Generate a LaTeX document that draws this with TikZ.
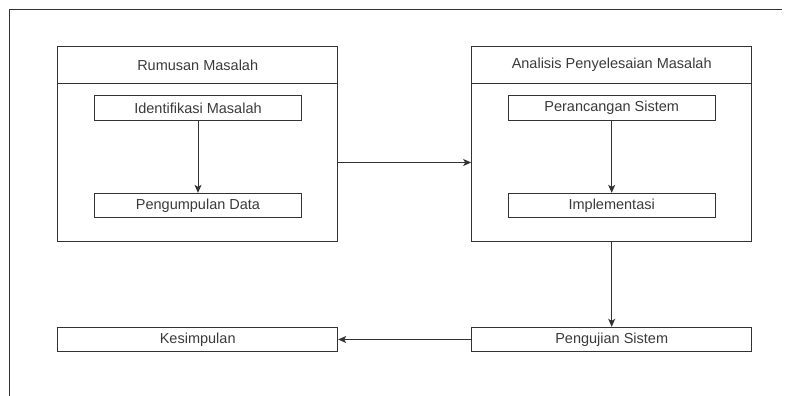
\documentclass[tikz,border=0pt]{standalone}
\usepackage{fontspec}
\setmainfont{Liberation Sans}
\usetikzlibrary{arrows.meta}
\definecolor{ln}{HTML}{333333}
\definecolor{tx}{HTML}{3A3A3A}
\begin{document}
\begin{tikzpicture}[x=1pt,y=-1pt,
  box/.style={draw=ln,line width=1pt,rectangle,inner sep=0pt,text=tx,font=\fontsize{14.5}{16}\selectfont},
  arr/.style={draw=ln,line width=1pt,-{Stealth[length=8pt,width=7pt,inset=2pt]}}]
\useasboundingbox (0,0) rectangle (788,396);
\draw[ln,line width=1pt] (782,10) -- (9,10) -- (9,396);
% left container
\node[box,minimum width=280pt,minimum height=36.7pt] (lh) at (197.7,65) {Rumusan Masalah};
\node[box,minimum width=280pt,minimum height=158.4pt] (lb) at (197.7,162.5) {};
\node[box,minimum width=207.4pt,minimum height=24.3pt] (id) at (198,107.9) {Identifikasi Masalah};
\node[box,minimum width=207.4pt,minimum height=24.3pt] (pd) at (198,205.5) {Pengumpulan Data};
% right container
\node[box,minimum width=280pt,minimum height=36.7pt] (rh) at (611.7,65) {Analisis Penyelesaian Masalah};
\node[box,minimum width=280pt,minimum height=158.4pt] (rb) at (611.7,162.5) {};
\node[box,minimum width=206.7pt,minimum height=24.3pt] (ps) at (611.7,107.9) {Perancangan Sistem};
\node[box,minimum width=206.7pt,minimum height=24.3pt] (im) at (611.7,205.5) {Implementasi};
% bottom
\node[box,minimum width=280pt,minimum height=24.4pt] (pj) at (611.7,339.5) {Pengujian Sistem};
\node[box,minimum width=280pt,minimum height=24.4pt] (ks) at (197.7,339.5) {Kesimpulan};
% arrows
\draw[arr] (id) -- (pd);
\draw[arr] (ps) -- (im);
\draw[arr] (lb) -- (rb);
\draw[arr] (rb) -- (pj);
\draw[arr] (pj) -- (ks);
\end{tikzpicture}
\end{document}
